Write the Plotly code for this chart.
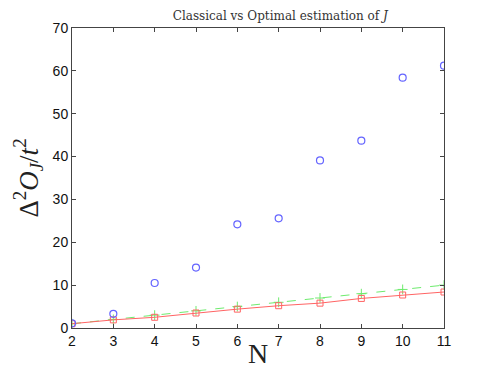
import plotly.graph_objects as go

# N values and estimated variances
N = [2, 3, 4, 5, 6, 7, 8, 9, 10, 11]
classical = [1.1, 3.3, 10.5, 14.1, 24.2, 25.6, 39.1, 43.7, 58.4, 61.2]
optimal = [1.0, 1.9, 2.5, 3.5, 4.4, 5.2, 5.8, 6.9, 7.7, 8.4]
bound = [1, 2, 3, 4, 5, 6, 7, 8, 9, 10]

fig = go.Figure()
fig.add_trace(go.Scatter(
    x=N, y=bound, mode="lines+markers",
    line=dict(color="rgb(110,235,110)", width=1, dash="dash"),
    marker=dict(symbol="cross-thin", size=7, line=dict(color="rgb(110,235,110)", width=1)),
))
fig.add_trace(go.Scatter(
    x=N, y=optimal, mode="lines+markers",
    line=dict(color="rgb(255,100,100)", width=1),
    marker=dict(symbol="square-open", size=6, color="rgb(255,100,100)", line=dict(width=1)),
))
fig.add_trace(go.Scatter(
    x=N, y=classical, mode="markers",
    marker=dict(symbol="circle-open", size=7, color="rgb(100,100,255)", line=dict(width=1.2)),
))

axis_style = dict(
    showline=True, linecolor="#444", linewidth=1, mirror="ticks",
    ticks="inside", ticklen=4, tickcolor="#444", showgrid=False, zeroline=False,
    automargin=False,
    tickfont=dict(family="Liberation Sans, Arial", size=14, color="#111"),
)

# the page body adds an 8px offset, so the figure is sized to fit what remains
fig.update_layout(
    width=483, height=361,
    margin=dict(l=64, r=47, t=20, b=41),
    plot_bgcolor="white", paper_bgcolor="white",
    showlegend=False,
    title=dict(
        text="Classical vs Optimal estimation of <i>J</i>",
        font=dict(family="DejaVu Serif, serif", size=12, color="#333"),
        x=0.56, xref="paper", xanchor="center",
        y=0.99, yref="container", yanchor="top",
        automargin=False,
    ),
    xaxis=dict(
        range=[2, 11], tickvals=N, **axis_style,
        title=dict(text="N", font=dict(family="Liberation Serif, serif", size=28, color="#222"), standoff=3),
    ),
    yaxis=dict(
        range=[0, 70], tickvals=[0, 10, 20, 30, 40, 50, 60, 70], **axis_style,
        title=dict(text="Δ<sup>2</sup><i>O</i><sub><i>J</i></sub>/<i>t</i><sup>2</sup>",
                   font=dict(family="Liberation Serif, serif", size=27, color="#222"), standoff=6),
    ),
)

fig.write_html("out.html")
